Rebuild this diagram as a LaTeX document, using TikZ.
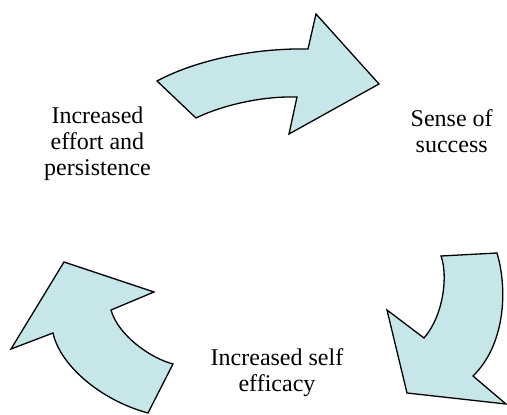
\documentclass[tikz,border=0pt]{standalone}
\usepackage{fontspec}
\setmainfont{Liberation Serif}
\definecolor{arrowfill}{RGB}{198,230,233}
\begin{document}
\begin{tikzpicture}[x=1pt,y=-1pt,
  blockarrow/.style={draw=black,fill=arrowfill,line width=1.3pt,line join=miter},
  label/.style={align=center,font=\fontsize{24}{26}\selectfont,inner sep=0pt}]
\useasboundingbox (0,0) rectangle (507,415);
% top arrow
\path[blockarrow] (157,81) .. controls (200,58) and (260,48) .. (308,49)
  -- (316,14) -- (379,84) -- (289,134) -- (297,97)
  .. controls (265,96) and (225,104) .. (196,118) -- cycle;
% bottom-right arrow
\path[blockarrow] (441,256) -- (497,253)
  .. controls (508,290) and (505,345) .. (473,376)
  -- (506,404) -- (407,393) -- (387,310) -- (424,338)
  .. controls (444,315) and (448,275) .. (441,256) -- cycle;
% bottom-left arrow
\path[blockarrow] (148,413) -- (173,364)
  .. controls (150,358) and (118,335) .. (111,310)
  -- (154,292) -- (64,262) -- (11,349) -- (53,333)
  .. controls (60,365) and (100,400) .. (148,413) -- cycle;
\node[label] (effort) at (97.5,143.5) {Increased\\effort and\\persistence};
\node[label] (success) at (451.7,131) {Sense of\\success};
\node[label] (efficacy) at (277,372.5) {Increased self\\efficacy};
\end{tikzpicture}
\end{document}
